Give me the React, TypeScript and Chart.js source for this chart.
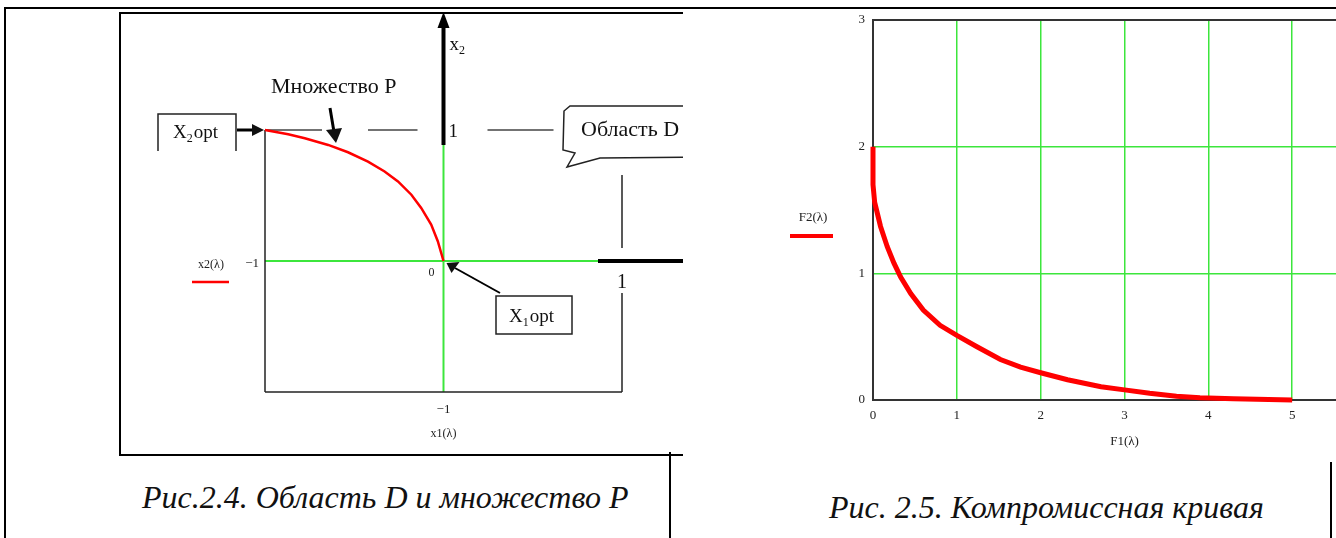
import React, { useEffect, useRef } from 'react';
import { Chart, registerables } from 'chart.js';

Chart.register(...registerables);

// ---- Data: Fig 2.4 (set P on the boundary of region D) ----
const x1Values = [-1, -0.87, -0.777, -0.646, -0.535, -0.423, -0.33, -0.255, -0.18, -0.125, -0.069, -0.032, 0];
const x2Values = [1, 0.967, 0.937, 0.886, 0.83, 0.759, 0.683, 0.607, 0.506, 0.405, 0.278, 0.151, 0];

// ---- Data: Fig 2.5 (compromise curve) ----
const f1Values = [0, 0, 0.02, 0.09, 0.17, 0.25, 0.33, 0.45, 0.6, 0.8, 1.0, 1.24, 1.52, 1.76, 2.0, 2.32, 2.72, 3.0, 3.3, 3.62, 3.9, 4.3, 5.0];
const f2Values = [2.0, 1.7, 1.56, 1.37, 1.21, 1.08, 0.97, 0.84, 0.71, 0.59, 0.51, 0.42, 0.32, 0.26, 0.215, 0.16, 0.105, 0.08, 0.053, 0.03, 0.017, 0.01, 0.0];
const f1Ticks = [0, 1, 2, 3, 4, 5, 6];
const f2Ticks = [0, 1, 2, 3];

const SERIF = '"Liberation Serif", "Times New Roman", serif';
const GREEN = '#3ce63c';
const RED = '#ff0000';

function seg(ctx: CanvasRenderingContext2D, x1: number, y1: number, x2: number, y2: number) {
  ctx.beginPath();
  ctx.moveTo(x1, y1);
  ctx.lineTo(x2, y2);
  ctx.stroke();
}
function tri(ctx: CanvasRenderingContext2D, pts: number[][]) {
  ctx.beginPath();
  ctx.moveTo(pts[0][0], pts[0][1]);
  for (let i = 1; i < pts.length; i++) ctx.lineTo(pts[i][0], pts[i][1]);
  ctx.closePath();
  ctx.fill();
}
function txt(ctx: CanvasRenderingContext2D, s: string, x: number, y: number, size: number, align: CanvasTextAlign = 'left', color = '#111') {
  ctx.font = `${size}px ${SERIF}`;
  ctx.fillStyle = color;
  ctx.textAlign = align;
  ctx.textBaseline = 'alphabetic';
  ctx.fillText(s, x, y);
}
// text with subscript: main, sub, rest
function subTxt(ctx: CanvasRenderingContext2D, a: string, b: string, c: string, x: number, y: number, size: number) {
  ctx.font = `${size}px ${SERIF}`;
  ctx.fillStyle = '#111';
  ctx.textAlign = 'left';
  ctx.fillText(a, x, y);
  const w = ctx.measureText(a).width;
  ctx.font = `${Math.round(size * 0.65)}px ${SERIF}`;
  ctx.fillText(b, x + w, y + 4);
  const w2 = ctx.measureText(b).width;
  ctx.font = `${size}px ${SERIF}`;
  ctx.fillText(c, x + w + w2 + 1, y);
}

const leftDecor = {
  id: 'leftDecor',
  beforeDatasetsDraw(chart: any) {
    const { ctx, chartArea: a, scales } = chart;
    const x0 = scales.x.getPixelForValue(0);
    const y0 = scales.y.getPixelForValue(0);
    ctx.save();
    // green zero lines
    ctx.strokeStyle = GREEN;
    ctx.lineWidth = 2;
    seg(ctx, x0, a.bottom, x0, a.top + 15);
    seg(ctx, a.left, y0, a.right - 24, y0);
    // frame (left, bottom, broken right)
    ctx.strokeStyle = '#222';
    ctx.lineWidth = 1.5;
    seg(ctx, a.left, a.top, a.left, a.bottom);
    seg(ctx, a.left, a.bottom, a.right, a.bottom);
    seg(ctx, a.right, a.top + 45, a.right, y0 - 13);
    seg(ctx, a.right, y0 + 32, a.right, a.bottom);
    // dashed top edge
    ctx.strokeStyle = '#444';
    seg(ctx, a.left, a.top, a.left + 57, a.top);
    seg(ctx, a.left + 103, a.top, x0 - 26, a.top);
    seg(ctx, x0 + 44, a.top, x0 + 110, a.top);
    ctx.restore();
  },
  afterDatasetsDraw(chart: any) {
    const { ctx, chartArea: a, scales } = chart;
    const x0 = scales.x.getPixelForValue(0);
    const y0 = scales.y.getPixelForValue(0);
    ctx.save();
    ctx.fillStyle = '#000';
    ctx.strokeStyle = '#000';
    // thick x2 axis arrow
    ctx.lineWidth = 4;
    seg(ctx, x0, a.top + 15, x0, 24);
    tri(ctx, [[x0 - 6, 28], [x0 + 6, 28], [x0, 12]]);
    // thick x1 axis line
    seg(ctx, a.right - 24, y0, a.right + 70, y0);
    // axis labels
    subTxt(ctx, 'x', '2', '', x0 + 6, 50, 19);
    txt(ctx, '1', x0 + 5, a.top + 7, 19);
    txt(ctx, '1', a.right - 5, y0 + 27, 20);
    // X2opt box + arrow
    ctx.strokeStyle = '#222';
    ctx.lineWidth = 1.5;
    ctx.beginPath();
    ctx.moveTo(158, a.top + 21);
    ctx.lineTo(158, a.top - 16);
    ctx.lineTo(236, a.top - 16);
    ctx.lineTo(236, a.top + 21);
    ctx.stroke();
    subTxt(ctx, 'X', '2', 'opt', 173, a.top + 8, 19);
    ctx.strokeStyle = '#000';
    ctx.lineWidth = 3;
    seg(ctx, 237, a.top, 254, a.top);
    tri(ctx, [[252, a.top - 6], [252, a.top + 6], [a.left - 1, a.top]]);
    // Множество P + arrow
    txt(ctx, 'Множество P', 271, 93, 22);
    ctx.lineWidth = 3;
    seg(ctx, 330, 108, 334, 132);
    tri(ctx, [[326, 130], [342, 128], [336, 143]]);
    // Область D callout
    ctx.strokeStyle = '#222';
    ctx.lineWidth = 1.5;
    ctx.beginPath();
    ctx.moveTo(700, 106);
    ctx.lineTo(570, 106);
    ctx.lineTo(564, 111);
    ctx.lineTo(563, 150);
    ctx.lineTo(575, 153);
    ctx.lineTo(567, 167);
    ctx.lineTo(600, 158);
    ctx.lineTo(700, 157);
    ctx.stroke();
    txt(ctx, 'Область D', 581, 136, 22);
    // X1opt box + arrow
    ctx.strokeRect(496, 296, 76, 38);
    subTxt(ctx, 'X', '1', 'opt', 509, 322, 19);
    ctx.strokeStyle = '#000';
    ctx.lineWidth = 2;
    seg(ctx, 500, 293, 455, 268);
    tri(ctx, [[x0 + 3, y0 + 2], [x0 + 8, y0 + 12], [x0 + 16, y0 + 1]]);
    // Mathcad-style labels
    txt(ctx, 'x2(λ)', 211, y0 + 7, 12, 'center', '#222');
    ctx.strokeStyle = RED;
    ctx.lineWidth = 2.5;
    seg(ctx, 192, y0 + 21, 229, y0 + 21);
    txt(ctx, '−1', a.left - 6, y0 + 6, 13, 'right', '#222');
    txt(ctx, '0', x0 - 12, y0 + 15, 12, 'center', '#222');
    txt(ctx, '−1', x0, a.bottom + 21, 13, 'center', '#222');
    txt(ctx, 'x1(λ)', x0, a.bottom + 45, 12, 'center', '#222');
    ctx.restore();
  },
};

const rightDecor = {
  id: 'rightDecor',
  afterDraw(chart: any) {
    const { ctx, chartArea: a } = chart;
    ctx.save();
    txt(ctx, 'F2(λ)', a.left - 60, 221, 13, 'center', '#222');
    ctx.strokeStyle = RED;
    ctx.lineWidth = 4;
    seg(ctx, a.left - 83, 236, a.left - 40, 236);
    ctx.restore();
  },
};

function LeftChart() {
  const ref = useRef<HTMLCanvasElement>(null);
  useEffect(() => {
    const chart = new Chart(ref.current!, {
      type: 'scatter',
      data: {
        datasets: [
          {
            data: x1Values.map((v, i) => ({ x: v, y: x2Values[i] })),
            showLine: true,
            borderColor: RED,
            borderWidth: 2.5,
            pointRadius: 0,
            tension: 0,
            clip: false,
          } as any,
        ],
      },
      options: {
        animation: false,
        responsive: false,
        events: [],
        layout: { padding: { left: 265, top: 130, right: 61, bottom: 68 } },
        plugins: { legend: { display: false }, tooltip: { enabled: false } },
        scales: {
          x: { type: 'linear', min: -1, max: 1, display: false },
          y: { type: 'linear', min: -1, max: 1, display: false },
        },
      },
      plugins: [leftDecor],
    });
    return () => chart.destroy();
  }, []);
  return <canvas ref={ref} width={683} height={460} style={{ position: 'absolute', left: 0, top: 0 }} />;
}

function RightChart() {
  const ref = useRef<HTMLCanvasElement>(null);
  useEffect(() => {
    const font = { family: SERIF, size: 13 };
    const chart = new Chart(ref.current!, {
      type: 'scatter',
      data: {
        datasets: [
          {
            data: f1Values.map((v, i) => ({ x: v, y: f2Values[i] })),
            showLine: true,
            borderColor: RED,
            borderWidth: 5,
            pointRadius: 0,
            tension: 0,
            clip: false,
          } as any,
        ],
      },
      options: {
        animation: false,
        responsive: false,
        events: [],
        layout: { padding: { left: 68, top: 20, right: 24, bottom: 10 } },
        plugins: { legend: { display: false }, tooltip: { enabled: false } },
        scales: {
          x: {
            type: 'linear',
            min: 0,
            max: 6,
            afterBuildTicks: (s: any) => {
              s.ticks = f1Ticks.map((v) => ({ value: v }));
            },
            afterFit: (s: any) => {
              s.height = 50;
            },
            ticks: {
              padding: 8,
              font,
              color: '#222',
              autoSkip: false,
              maxRotation: 0,
              callback: (v: any) => (v === 6 ? '' : String(v)),
            },
            grid: {
              color: (c: any) => (c.tick && c.tick.value === 0 ? 'rgba(0,0,0,0)' : GREEN),
              lineWidth: 1.5,
              drawTicks: false,
            },
            border: { display: true, color: '#333', width: 2 },
            title: { display: true, text: 'F1(λ)', font, color: '#222', padding: { top: 0, bottom: 1 } },
          },
          y: {
            type: 'linear',
            min: 0,
            max: 3,
            afterBuildTicks: (s: any) => {
              s.ticks = f2Ticks.map((v) => ({ value: v }));
            },
            afterFit: (s: any) => {
              s.width = 25;
            },
            ticks: { padding: 8, font, color: '#222', autoSkip: false },
            grid: {
              color: (c: any) => {
                const v = c.tick && c.tick.value;
                if (v === 0) return 'rgba(0,0,0,0)';
                if (v === 3) return '#333';
                return GREEN;
              },
              lineWidth: (c: any) => (c.tick && c.tick.value === 3 ? 2 : 1.5),
              drawTicks: false,
            },
            border: { display: true, color: '#333', width: 2 },
          },
        },
      },
      plugins: [rightDecor],
    });
    return () => chart.destroy();
  }, []);
  return <canvas ref={ref} width={620} height={460} style={{ position: 'absolute', left: 780, top: 0 }} />;
}

function Line({ l, t, w, h }: { l: number; t: number; w: number; h: number }) {
  return <div style={{ position: 'absolute', left: l, top: t, width: w, height: h, background: '#000' }} />;
}

export default function App() {
  const caption: React.CSSProperties = {
    position: 'absolute',
    fontFamily: SERIF,
    fontStyle: 'italic',
    fontSize: 32,
    lineHeight: '32px',
    whiteSpace: 'nowrap',
    color: '#111',
  };
  return (
    <div style={{ position: 'absolute', left: 0, top: 0, width: 1336, height: 538, overflow: 'hidden', background: '#fff' }}>
      <div style={{ position: 'absolute', left: 0, top: 0, width: 683, height: 538, overflow: 'hidden' }}>
        <LeftChart />
      </div>
      <RightChart />
      {/* page / table frames */}
      <Line l={5} t={7} w={1331} h={2} />
      <Line l={4} t={7} w={2} h={531} />
      <Line l={119} t={12} w={564} h={2} />
      <Line l={119} t={12} w={2} h={444} />
      <Line l={119} t={454} w={564} h={2} />
      <Line l={669} t={452} w={2} h={86} />
      <Line l={1330} t={462} w={2} h={76} />
      <div style={{ ...caption, left: 142, top: 481 }}>Рис.2.4. Область D и множество P</div>
      <div style={{ ...caption, left: 829, top: 491 }}>Рис. 2.5. Компромиссная кривая</div>
    </div>
  );
}
